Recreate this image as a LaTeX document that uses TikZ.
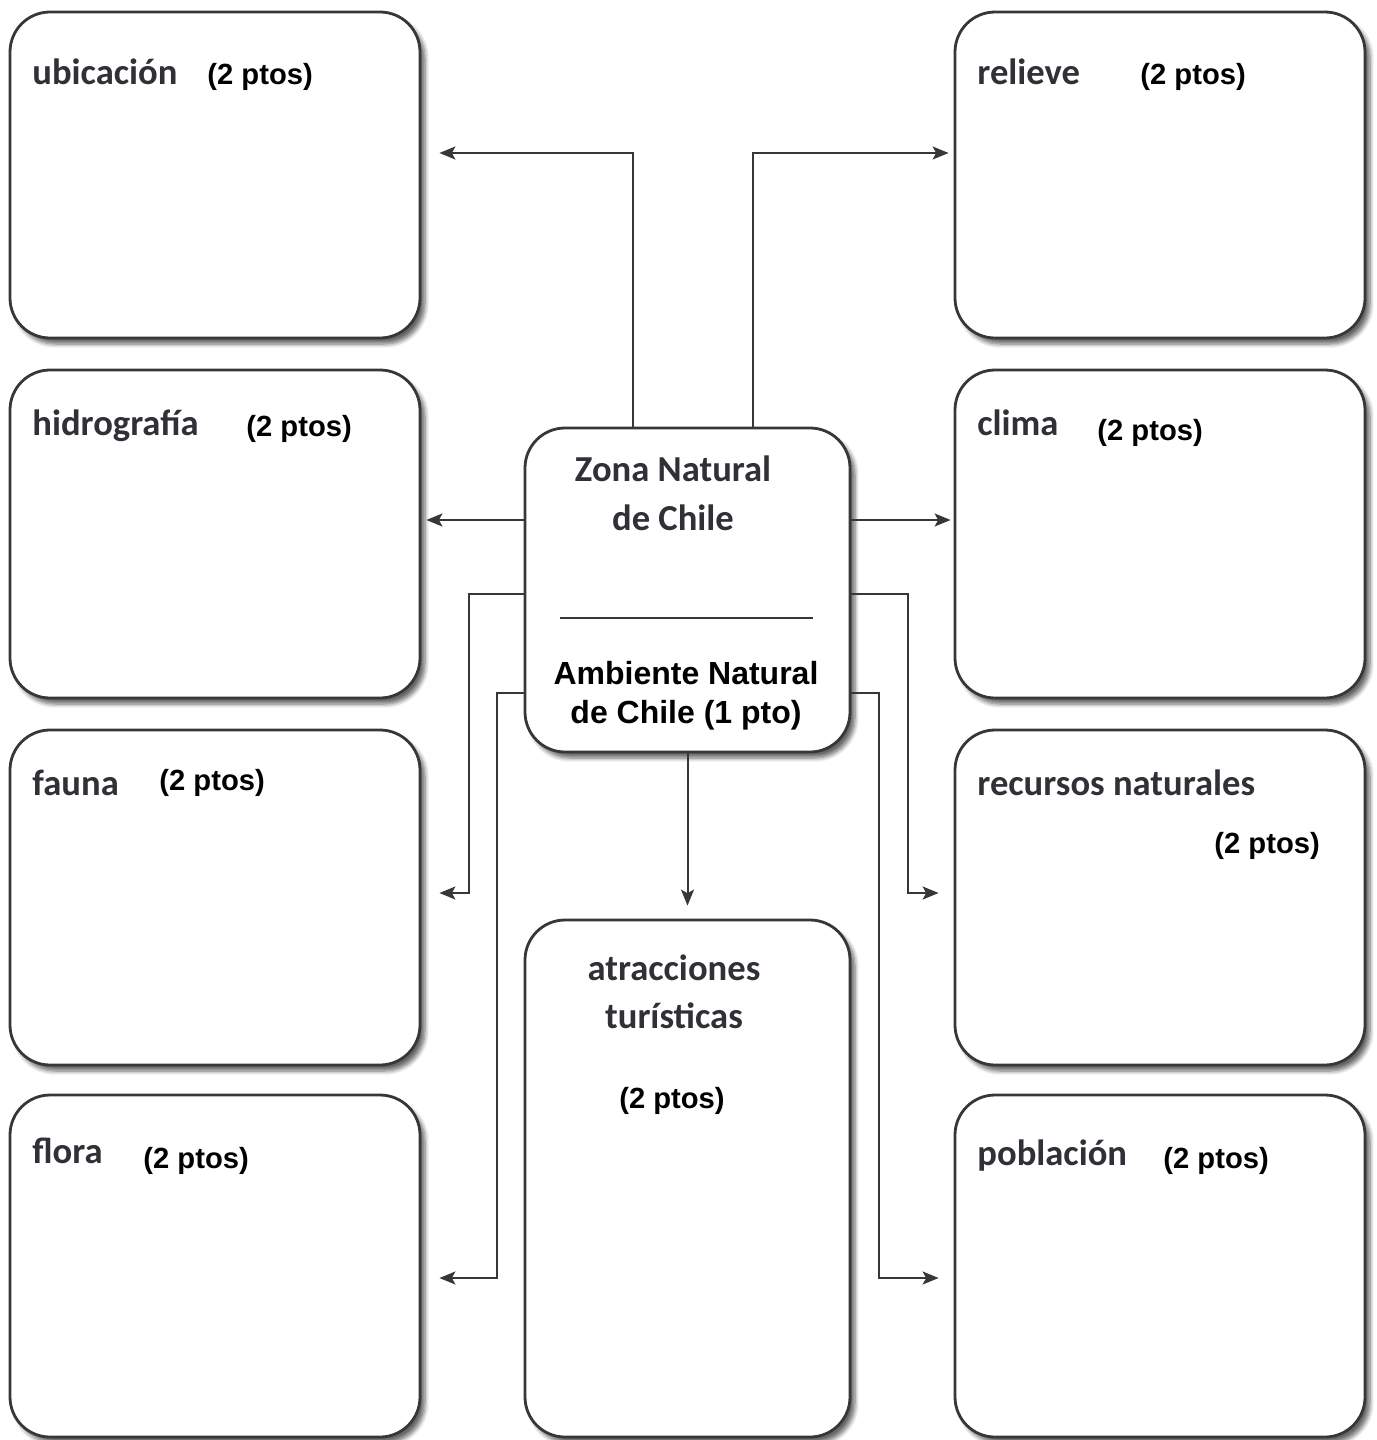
\documentclass[tikz,border=0pt]{standalone}
\usepackage{fontspec}
\setmainfont{Liberation Sans}
\newfontfamily\calibfont{Carlito}
\usetikzlibrary{arrows.meta,shadows.blur}
\definecolor{borde}{RGB}{55,55,55}
\definecolor{rotulo}{RGB}{48,48,55}
\tikzset{
  caja/.style={draw=borde, line width=1.4pt, rounded corners=20pt, fill=white, inner sep=0pt,
    blur shadow={shadow xshift=2.5pt, shadow yshift=-3pt, shadow blur steps=6, shadow opacity=60}},
  flecha/.style={draw=borde, line width=1pt, -{Stealth[length=8pt,width=6.5pt,inset=1.8pt]}},
  rotulo/.style={anchor=base west, inner sep=0pt, text=rotulo,
    font=\calibfont\bfseries\fontsize{18.3}{22}\selectfont},
  puntos/.style={anchor=base west, inner sep=0pt, font=\bfseries\fontsize{14.6}{17}\selectfont},
}
\begin{document}
\begin{tikzpicture}[x=0.5pt,y=-0.5pt]
  \useasboundingbox (0,0) rectangle (1376,1440);
  % boxes
  \foreach \nombre/\y/\h in {ubic/175/163, hidro/534/164, fauna/897.5/167.5, flora/1266/171}{
    \node[caja, minimum width=205pt, minimum height=\h pt] (\nombre) at (215,\y) {};
  }
  \foreach \nombre/\y/\h in {relieve/175/163, clima/534/164, recursos/897.5/167.5, poblacion/1266/171}{
    \node[caja, minimum width=205pt, minimum height=\h pt] (\nombre) at (1160,\y) {};
  }
  \node[caja, minimum width=162.5pt, minimum height=162pt] (zona) at (687.5,590) {};
  \node[caja, minimum width=162.5pt, minimum height=258.5pt] (atrac) at (687.5,1178.5) {};
  % labels
  \foreach \nombre/\texto/\x/\y/\px/\py in {ubic/ubicación/32/84/207/84,
      hidro/hidrografía/32/435/246/436, fauna/fauna/32/795/159/790,
      flora/flora/32/1163/143/1168, relieve/relieve/977/84/1140/84,
      clima/clima/977/435/1097/440, recursos/recursos naturales/977/795/1214/853,
      poblacion/población/977/1165/1163/1168}{
    \node[rotulo] (t-\nombre) at (\x,\y) {\texto};
    \node[puntos] (p-\nombre) at (\px,\py) {(2 ptos)};
  }
  \node[rotulo, anchor=base] (t-zona1) at (673,481) {Zona Natural};
  \node[rotulo, anchor=base] (t-zona2) at (673,530) {de Chile};
  \draw[borde, line width=1.3pt] (560,618) -- (813,618);
  \node[puntos, anchor=base, font=\bfseries\fontsize{16}{19}\selectfont] (t-amb1) at (686,684) {Ambiente Natural};
  \node[puntos, anchor=base, font=\bfseries\fontsize{16}{19}\selectfont] (t-amb2) at (686,723) {de Chile (1 pto)};
  \node[rotulo, anchor=base] (t-atrac1) at (674,980) {atracciones};
  \node[rotulo, anchor=base] (t-atrac2) at (674,1028) {turísticas};
  \node[puntos, anchor=base] (p-atrac) at (672,1108) {(2 ptos)};
  % connectors
  \draw[flecha] ([shift={(-54.5,0)}]zona.north) |- ([shift={(18,-22)}]ubic.east);
  \draw[flecha] ([shift={(65.5,0)}]zona.north) |- ([shift={(-5,-22)}]relieve.west);
  \draw[flecha] ([shift={(0,-70)}]zona.west) -- ([shift={(5,-14)}]hidro.east);
  \draw[flecha] ([shift={(0,-70)}]zona.east) -- ([shift={(-3,-14)}]clima.west);
  \draw[flecha] ([shift={(0,4)}]zona.west) -- ++(-55,0) |- ([shift={(18,-4.5)}]fauna.east);
  \draw[flecha] ([shift={(0,103)}]zona.west) -- ++(-27,0) |- ([shift={(18,12)}]flora.east);
  \draw[flecha] ([shift={(0,4)}]zona.east) -- ++(57,0) |- ([shift={(-15,-4.5)}]recursos.west);
  \draw[flecha] ([shift={(0,103)}]zona.east) -- ++(28,0) |- ([shift={(-15,12)}]poblacion.west);
  \draw[flecha] (zona.south) -- ([shift={(0,-13)}]atrac.north);
\end{tikzpicture}
\end{document}
